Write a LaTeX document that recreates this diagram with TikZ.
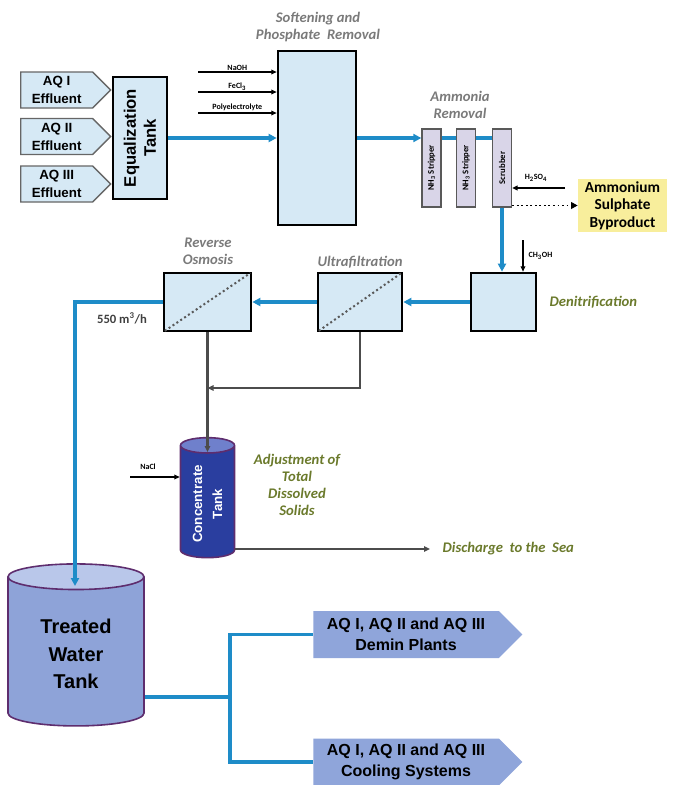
\documentclass[tikz,border=0pt]{standalone}
\usepackage{fontspec}
\setmainfont{Liberation Sans}
\newfontfamily\calfont{Carlito}
\usetikzlibrary{
    positioning,
    arrows.meta,
    shapes.geometric,
    shapes.symbols,
}
\definecolor{boxblue}{HTML}{D6E9F5}
\definecolor{flowblue}{HTML}{1E8CC8}
\definecolor{tankbody}{HTML}{8EA3D8}
\definecolor{tanktop}{HTML}{B9C7EA}
\definecolor{tankedge}{HTML}{5E2D6E}
\definecolor{concbody}{HTML}{2A3E9F}
\definecolor{conctop}{HTML}{6F80CC}
\definecolor{outblue}{HTML}{8FA5DA}
\definecolor{byprod}{HTML}{F8EE9C}
\definecolor{stripfill}{HTML}{D9D5E8}
\definecolor{olivetext}{HTML}{6B7A2C}
\definecolor{greytext}{HTML}{7A7A7A}
\tikzset{
    % Process boxes
    procbox/.style={rectangle, draw=black, line width=2pt, fill=boxblue, inner sep=0pt},
    feed/.style={signal, signal to=east, signal pointer angle=90, draw=gray!80!black,
                 line width=1pt, fill=boxblue, align=center, inner sep=1pt,
                 minimum width=67.5pt, minimum height=27pt,
                 font=\bfseries\fontsize{10}{13.5}\selectfont},
    outbox/.style={signal, signal to=east, signal pointer angle=90, fill=outblue,
                   align=center, inner sep=1pt, minimum width=156.75pt, minimum height=35.25pt,
                   font=\bfseries\fontsize{12}{15.5}\selectfont},
    stripper/.style={rectangle, rotate=90, draw=gray!70!black, line width=1pt, fill=stripfill,
                     minimum width=58.5pt, minimum height=14.25pt, inner sep=0.5pt,
                     font=\calfont\bfseries\fontsize{6.5}{7}\selectfont},
    % Labels
    stage/.style={font=\calfont\bfseries\itshape\fontsize{11}{12.75}\selectfont,
                  text=greytext, align=center},
    remark/.style={stage, text=olivetext},
    chemlbl/.style={font=\calfont\bfseries\fontsize{6}{7}\selectfont, inner sep=1pt},
}

\begin{document}
\begin{tikzpicture}[x=0.75pt, y=-0.75pt,
    flowarrow/.style={flowblue, line width=2.6pt, -{Triangle[length=6pt, width=6pt]}},
    flowline/.style={flowblue, line width=2.6pt},
    chemarrow/.style={black, line width=0.9pt, -{Triangle[length=4pt, width=3.5pt]}},
    rejectline/.style={black!70, line width=1.6pt, -{Triangle[length=4.5pt, width=4pt]}},
    dotarrow/.style={black, line width=1.4pt, dotted, -{Triangle[length=5pt, width=5pt]}},
    membrane/.style={gray!70!black, line width=1.5pt, dotted, shorten <=2pt, shorten >=2pt},
]
    \useasboundingbox (0,0) rectangle (674,785);

    % Effluent feeds
    \node[feed, anchor=west] (aq1) at (20,90) {AQ I\\Effluent};
    \node[feed, anchor=west] (aq2) at (20,136.5) {AQ II\\Effluent};
    \node[feed, anchor=west] (aq3) at (20,184) {AQ III\\Effluent};

    % Equalization + softening
    \node[procbox, rotate=90, minimum width=91.5pt, minimum height=40.5pt, align=center,
          font=\bfseries\fontsize{12.5}{15}\selectfont] (eq) at (140,138) {Equalization\\Tank};
    \node[procbox, minimum width=58.5pt, minimum height=130.5pt] (soft) at (317,138) {};
    \node[stage] (softlbl) at (318,27) {Softening and\\Phosphate\ \ Removal};

    % Dosing chemicals
    \foreach \chem/\yy [count=\i] in {NaOH/72, FeCl\textsubscript{3}/92, Polyelectrolyte/113} {
        \coordinate (dose\i) at (198,\yy);
        \draw[chemarrow] (dose\i) -- (dose\i -| soft.west)
            node[chemlbl, midway, above] (doselbl\i) {\chem};
    }

    % Ammonia removal
    \node[stripper] (strip1) at (431.5,168) {NH\textsubscript{3} Stripper};
    \node[stripper] (strip2) at (466,168) {NH\textsubscript{3} Stripper};
    \node[stripper] (scrub) at (502,168) {Scrubber};
    \node[stage] (nh3lbl) at (460,105) {Ammonia\\Removal};
    \node[fill=byprod, minimum width=66.75pt, minimum height=39.75pt, align=center, inner sep=1pt,
          font=\calfont\bfseries\fontsize{11.5}{13}\selectfont] (amm) at (622.5,205.5)
          {Ammonium\\Sulphate\\Byproduct};
    \coordinate (acid) at (565,188);
    \node[chemlbl] (acidlbl) at (536,178) {H\textsubscript{2}SO\textsubscript{4}};

    % Denitrification, UF, RO
    \node[procbox, minimum width=48.75pt, minimum height=43.5pt] (denit) at (503.5,302) {};
    \node[remark, anchor=west] (denitlbl) at (545,302) {Denitrification};
    \coordinate (meoh) at (523,240);
    \node[chemlbl, anchor=west] (meohlbl) at (527,256) {CH\textsubscript{3}OH};
    \node[procbox, minimum width=63pt, minimum height=43.5pt] (uf) at (360,302) {};
    \node[stage] (uflbl) at (360,262) {Ultrafiltration};
    \node[procbox, minimum width=65.25pt, minimum height=43.5pt] (ro) at (207.5,302) {};
    \node[stage] (rolbl) at (208,251) {Reverse\\Osmosis};
    \node[font=\calfont\bfseries\fontsize{9.5}{11}\selectfont, text=black!75] (ratelbl) at (122,318)
          {550 m\textsuperscript{3}/h};
    \foreach \m in {ro, uf}
        \draw[membrane] (\m.south west) -- (\m.north east);

    % Concentrate tank
    \node[cylinder, rotate=90, draw=tankedge, line width=1.2pt, cylinder uses custom fill,
          cylinder body fill=concbody, cylinder end fill=conctop, aspect=0.4,
          minimum width=40.5pt, minimum height=90pt, text=white, align=center,
          font=\bfseries\fontsize{10}{15}\selectfont] (conc) at (207.5,504) {Concentrate\\Tank};
    \node[remark] (tdslbl) at (297,485) {Adjustment of\\Total\\Dissolved\\Solids};
    \coordinate (nacl) at (130,477);
    \node[chemlbl] (nacllbl) at (148,467) {NaCl};
    \node[remark, anchor=west] (sea) at (438,549) {Discharge\ \ to the\ \ Sea};
    \coordinate (concin) at (207.5,452);
    \coordinate (join) at (207.5,388);

    % Treated water tank + users
    \node[cylinder, shape border rotate=90, draw=tankedge, line width=1.2pt, cylinder uses custom fill,
          cylinder body fill=tankbody, cylinder end fill=tanktop, aspect=0.32,
          minimum width=102pt, minimum height=121.5pt, align=center,
          font=\bfseries\fontsize{15}{20.5}\selectfont] (tank) at (76,654) {Treated\\Water\\Tank};
    \coordinate (tankin) at (75,586);
    \coordinate (split) at (230,697);
    \node[outbox, anchor=west] (demin) at (313,634.5) {AQ I, AQ II and AQ III\\Demin Plants};
    \node[outbox, anchor=west] (cool) at (313,762) {AQ I, AQ II and AQ III\\Cooling Systems};

    % Main flow
    \draw[flowarrow] (eq) -- (soft);
    \draw[flowarrow] (soft.east) -- (soft.east -| strip1.north);
    \draw[flowline] (strip1.south |- soft.east) -- (strip2.north |- soft.east);
    \draw[flowline] (strip2.south |- soft.east) -- (scrub.north |- soft.east);
    \draw[flowarrow] (scrub.west) -- (scrub.west |- denit.north);
    \draw[flowarrow] (denit) -- (uf);
    \draw[flowarrow] (uf) -- (ro);
    \draw[flowarrow] (ro.west) -| (tankin);
    \draw[flowline] (tank.east |- split) -- (split);
    \draw[flowline] (demin.west) -| (split) |- (cool.west);

    % Side streams
    \draw[chemarrow] (acid) -- (acid -| scrub.south);
    \draw[dotarrow] (scrub.south |- amm.west) -- (amm.west);
    \draw[chemarrow] (meoh) -- (meoh |- denit.north);
    \draw[rejectline] (ro.south) -- (concin);
    \draw[rejectline] (uf.south) |- (join);
    \draw[chemarrow] (nacl) -- (nacl -| conc.north);
    \draw[rejectline, shorten >=6pt] (conc.south |- sea.west) -- (sea.west);
\end{tikzpicture}
\end{document}
